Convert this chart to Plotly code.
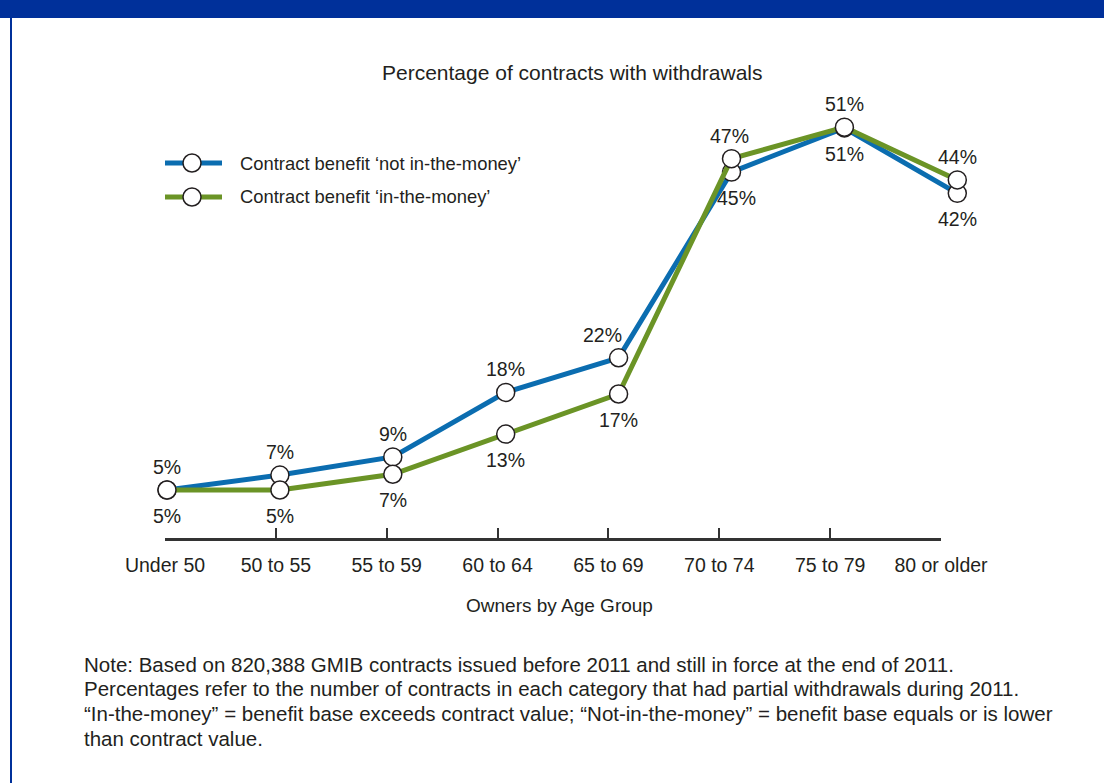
import plotly.graph_objects as go

# ---------------- data ----------------
age_groups = ["Under 50", "50 to 55", "55 to 59", "60 to 64",
              "65 to 69", "70 to 74", "75 to 79", "80 or older"]
not_itm_values = [5.0, 6.9, 9.2, 17.4, 21.8, 45.4, 51.0, 42.7]
itm_values = [5.0, 5.0, 7.0, 12.1, 17.2, 47.1, 51.1, 44.4]
not_itm_labels = ["5%", "7%", "9%", "18%", "22%", "45%", "51%", "42%"]
itm_labels = ["5%", "5%", "7%", "13%", "17%", "47%", "51%", "44%"]
series_names = ["Contract benefit \u2018not in-the-money\u2019",
                "Contract benefit \u2018in-the-money\u2019"]
title_text = "Percentage of contracts with withdrawals"
x_title = "Owners by Age Group"
note_lines = [
    "Note: Based on 820,388 GMIB contracts issued before 2011 and still in force at the end of 2011.",
    "Percentages refer to the number of contracts in each category that had partial withdrawals during 2011.",
    "\u201cIn-the-money\u201d = benefit base exceeds contract value; \u201cNot-in-the-money\u201d = benefit base equals or is lower",
    "than contract value.",
]

# ---------------- layout constants (pixels) ----------------
W, H = 1104, 783
FONT = "Liberation Sans, Arial, sans-serif"
TXT = "#231F20"
BLUE = "#0B6DB0"
GREEN = "#6B9426"
BAND = "#00309A"


def px(x):
    return x / W


def py(y):
    return 1 - y / H


# tick axis extent in pixels
X_LEFT, X_RIGHT = 165, 941
Y_TOP, Y_BOT = 90, 538
# data subplot extent in pixels (wider so nothing is clipped)
DX_LEFT, DX_RIGHT = 100, 1020
# data scale: first point at 167 px, step 112.9 px; 5% at 490 px, 7.87 px per %
X0_PX, X_STEP = 167, 112.9
Y5_PX, Y_STEP = 490, 7.87
x_range = [(DX_LEFT - X0_PX) / X_STEP, (DX_RIGHT - X0_PX) / X_STEP]
y_range = [5 - (Y_BOT - Y5_PX) / Y_STEP, 5 + (Y5_PX - Y_TOP) / Y_STEP]

fig = go.Figure()

marker_style = dict(size=18, color="white", line=dict(color="#231F20", width=1.5))

fig.add_trace(go.Scatter(
    x=age_groups, y=not_itm_values, mode="lines+markers", name=series_names[0],
    line=dict(color=BLUE, width=5), marker=marker_style, cliponaxis=False,
    showlegend=False, hoverinfo="skip"))
fig.add_trace(go.Scatter(
    x=age_groups, y=itm_values, mode="lines+markers", name=series_names[1],
    line=dict(color=GREEN, width=5), marker=marker_style, cliponaxis=False,
    showlegend=False, hoverinfo="skip"))

annotations = []
# label sides: +1 above, -1 below
blue_side = [1, 1, 1, 1, 1, -1, -1, -1]
green_side = [-1, -1, -1, -1, -1, 1, 1, 1]
blue_dx = [0, 0, 0, 0, -16, 5, 0, 0]
green_dx = [0, 0, 0, 0, 0, -2, 0, 0]
for vals, labs, sides, dxs in ((not_itm_values, not_itm_labels, blue_side, blue_dx),
                               (itm_values, itm_labels, green_side, green_dx)):
    for cat, v, lab, s, dx in zip(age_groups, vals, labs, sides, dxs):
        annotations.append(dict(
            x=cat, y=v, xref="x", yref="y", text=lab, showarrow=False,
            xanchor="center", yanchor="middle",
            yshift=23 if s > 0 else -26, xshift=dx,
            font=dict(family=FONT, size=19.5, color=TXT)))

# chart title
annotations.append(dict(x=px(572), y=py(72), xref="paper", yref="paper",
                        text=title_text, showarrow=False, xanchor="center",
                        yanchor="middle", font=dict(family=FONT, size=21, color=TXT)))
# x axis title
annotations.append(dict(x=px(559), y=py(605), xref="paper", yref="paper",
                        text=x_title, showarrow=False, xanchor="center",
                        yanchor="middle", font=dict(family=FONT, size=19, color=TXT)))
# note lines
for i, line in enumerate(note_lines):
    annotations.append(dict(x=px(82), y=py(664 + 24.7 * i), xref="paper", yref="paper",
                            text=line, showarrow=False, xanchor="left",
                            yanchor="middle", align="left",
                            font=dict(family=FONT, size=20.5, color=TXT)))

shapes = []
# top band and left border
shapes.append(dict(type="rect", xref="paper", yref="paper", x0=0, x1=1,
                   y0=py(18), y1=1, fillcolor=BAND, line=dict(width=0), layer="below"))
shapes.append(dict(type="line", xref="paper", yref="paper", x0=px(11), x1=px(11),
                   y0=0, y1=py(18), line=dict(color=BAND, width=2)))

# manual legend
legend_rows = [(163, BLUE, series_names[0]), (197, GREEN, series_names[1])]
for yy, col, name in legend_rows:
    shapes.append(dict(type="line", xref="paper", yref="paper",
                       x0=px(165), x1=px(222), y0=py(yy), y1=py(yy),
                       line=dict(color=col, width=5)))
    shapes.append(dict(type="circle", xref="paper", yref="paper",
                       x0=px(192 - 9), x1=px(192 + 9), y0=py(yy + 9), y1=py(yy - 9),
                       fillcolor="white", line=dict(color="#231F20", width=1.5)))
    annotations.append(dict(x=px(238), y=py(yy), xref="paper", yref="paper",
                            text=name, showarrow=False, xanchor="left",
                            yanchor="middle", font=dict(family=FONT, size=18.4, color=TXT)))

fig.update_layout(
    width=W, height=H, margin=dict(l=0, r=0, t=0, b=0, pad=0, autoexpand=False),
    paper_bgcolor="white", plot_bgcolor="rgba(0,0,0,0)", showlegend=False,
    font=dict(family=FONT, color=TXT),
    xaxis=dict(type="category", categoryarray=age_groups, range=x_range,
               domain=[px(DX_LEFT), px(DX_RIGHT)], visible=False, fixedrange=True,
               automargin=False),
    yaxis=dict(range=y_range, domain=[py(Y_BOT), py(Y_TOP)], visible=False,
               fixedrange=True, automargin=False),
    xaxis2=dict(anchor="y2", side="bottom", range=[0, 7],
                domain=[px(X_LEFT), px(X_RIGHT)],
                tickvals=list(range(len(age_groups))), ticktext=age_groups,
                ticks="inside", ticklen=10, tickwidth=1.5, tickcolor="#333333",
                showline=True, linecolor="#333333", linewidth=3,
                showgrid=False, zeroline=False, ticklabelstandoff=8,
                tickfont=dict(family=FONT, size=19.5, color=TXT), fixedrange=True,
                automargin=False),
    yaxis2=dict(anchor="x2", range=[0, 1], domain=[py(Y_BOT), py(Y_TOP)],
                visible=False, fixedrange=True, automargin=False),
    annotations=annotations, shapes=shapes,
)
# invisible trace so the tick axis subplot is drawn
fig.add_trace(go.Scatter(x=[0], y=[None], xaxis="x2", yaxis="y2", mode="markers",
                         showlegend=False, hoverinfo="skip"))

fig.write_html("out.html", config={"displayModeBar": False},
               post_script="document.body.style.margin='0';")
